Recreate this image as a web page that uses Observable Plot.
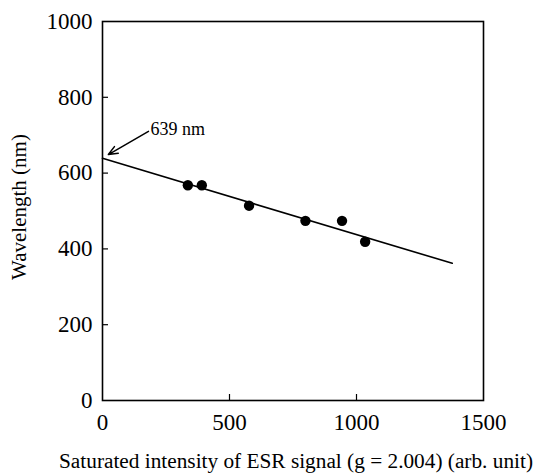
<!DOCTYPE html>
<html>
<head>
<meta charset="utf-8">
<script src="https://cdn.jsdelivr.net/npm/d3@7"></script>
<script src="https://cdn.jsdelivr.net/npm/@observablehq/plot@0.6"></script>
<style>
  html, body { margin: 0; padding: 0; background: white; }
  svg text { font-family: "Liberation Serif", "Times New Roman", serif !important; }
</style>
</head>
<body>
<div id="chart"></div>
<script>
// Data
const xTicks = [0, 500, 1000, 1500];
const yTicks = [0, 200, 400, 600, 800, 1000];
const intensity = [336, 391, 577, 799, 943, 1034];
const wavelength = [568, 568, 514, 474, 474, 419];
const fitIntensity = [0, 1377];
const fitWavelength = [639, 362];
const annotationText = ["639 nm"];
const annotationArrowX = [181, 23];
const annotationArrowY = [710, 649];
const annotationTextPos = [189, 717];
const xTitle = "Saturated intensity of ESR signal (g = 2.004) (arb. unit)";
const yTitle = "Wavelength (nm)";

const points = intensity.map((x, i) => ({x, y: wavelength[i]}));
const fit = fitIntensity.map((x, i) => ({x, y: fitWavelength[i]}));
const arrow = [{x1: annotationArrowX[0], y1: annotationArrowY[0], x2: annotationArrowX[1], y2: annotationArrowY[1]}];
const serif = "Liberation Serif";

const chart = Plot.plot({
  width: 535,
  height: 473,
  marginTop: 21,
  marginBottom: 73,
  marginLeft: 102,
  marginRight: 52,
  style: {fontFamily: serif, background: "white", color: "black"},
  x: {domain: [0, 1500]},
  y: {domain: [0, 1000]},
  marks: [
    Plot.axisX({ticks: xTicks.slice(1, -1), tickSize: -6, text: null, label: null, strokeWidth: 1.2}),
    Plot.axisX({ticks: xTicks, tickSize: 0, tickPadding: 13, fontSize: 23, fontFamily: serif, label: null, tickFormat: d => String(d)}),
    Plot.axisY({ticks: yTicks.slice(1, -1), tickSize: -6, text: null, label: null, strokeWidth: 1.2}),
    Plot.axisY({ticks: yTicks, tickSize: 0, tickPadding: 10, fontSize: 23, fontFamily: serif, label: null, tickFormat: d => String(d)}),
    Plot.frame({stroke: "black", strokeWidth: 1.6}),
    Plot.line(fit, {x: "x", y: "y", stroke: "black", strokeWidth: 1.6}),
    Plot.dot(points, {x: "x", y: "y", r: 5.2, fill: "black", stroke: null}),
    Plot.arrow(arrow, {x1: "x1", y1: "y1", x2: "x2", y2: "y2", stroke: "black", strokeWidth: 1.5, headLength: 10, headAngle: 45}),
    Plot.text(annotationText, {x: annotationTextPos[0], y: annotationTextPos[1], text: d => d, textAnchor: "start", lineAnchor: "middle", fontSize: 18, fontFamily: serif, fill: "black"}),
    Plot.text([xTitle], {frameAnchor: "bottom", dy: 61, dx: 3, text: d => d, textAnchor: "middle", lineAnchor: "middle", fontSize: 21.3, fontFamily: serif, fill: "black"}),
    Plot.text([yTitle], {frameAnchor: "left", dx: -83, dy: -4, rotate: -90, text: d => d, textAnchor: "middle", lineAnchor: "middle", fontSize: 21, fontFamily: serif, fill: "black"})
  ]
});
document.getElementById("chart").appendChild(chart);
</script>
</body>
</html>
